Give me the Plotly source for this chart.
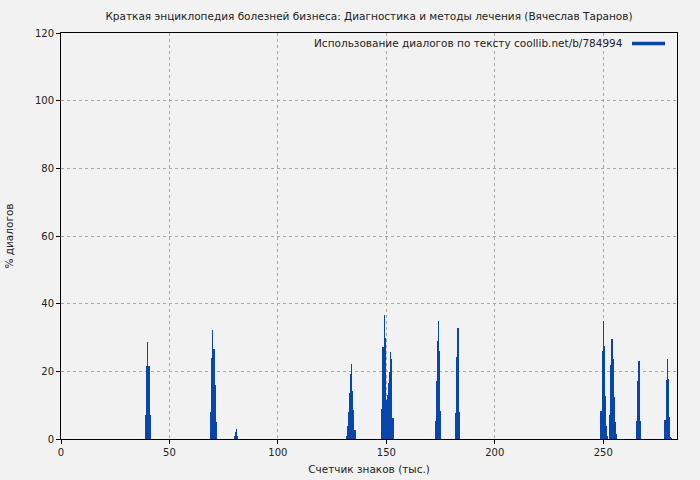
import plotly.graph_objects as go

# Character counter (thousands) and share of dialogue (%)
counter_k = [
    39.0, 39.5, 40.0, 40.5, 41.0,
    69.0, 69.5, 70.0, 70.5, 71.0, 71.5,
    80.0, 80.5, 81.0, 81.5,
    131.5, 132.0, 132.5, 133.0, 133.5, 134.0, 134.5, 135.0, 135.5,
    148.0, 148.5, 149.0, 149.5, 150.0, 150.5, 151.0, 151.5, 152.0, 152.5, 153.0,
    172.5, 173.0, 173.5, 174.0, 174.5, 175.0,
    182.0, 182.5, 183.0, 183.5,
    249.0, 249.5, 250.0, 250.5, 251.0, 251.5, 252.0,
    253.0, 253.5, 254.0, 254.5, 255.0, 255.5, 256.0,
    265.5, 266.0, 266.5, 267.0,
    278.5, 279.0, 279.5, 280.0, 280.5, 281.0, 281.5,
]
dialog_pct = [
    7.0, 21.5, 28.7, 21.5, 7.0,
    8.0, 24.0, 32.3, 26.6, 16.0, 5.0,
    1.0, 2.2, 2.9, 1.0,
    0.9, 3.8, 8.0, 13.5, 19.2, 22.2, 14.1, 8.6, 2.7,
    9.0, 27.3, 36.7, 29.9, 11.5, 13.0, 16.6, 19.8, 25.8, 23.5, 6.2,
    5.4, 17.2, 29.0, 35.0, 26.1, 8.4,
    7.8, 24.3, 32.8, 8.0,
    8.4, 26.1, 35.0, 27.5, 12.7, 3.8, 0.9,
    7.1, 21.9, 29.6, 23.6, 12.3, 5.0, 1.5,
    5.4, 17.1, 23.0, 5.4,
    5.6, 17.4, 23.6, 17.7, 6.6, 0.7, 0.4,
]

title_text = "Краткая энциклопедия болезней бизнеса: Диагностика и методы лечения (Вячеслав Таранов)"
series_name = "Использование диалогов по тексту coollib.net/b/784994"
x_title = "Счетчик знаков (тыс.)"
y_title = "% диалогов"
x_ticks = [0, 50, 100, 150, 200, 250]
y_ticks = [0, 20, 40, 60, 80, 100, 120]

BLUE = "#0846ab"
BG = "#f2f2f2"
FONT = "DejaVu Sans"
W, H = 700, 480
L, R, T, B = 61, 23, 33, 41
PW, PH = W - L - R, H - T - B

fig = go.Figure()
fig.add_trace(go.Bar(
    x=counter_k, y=dialog_pct, name=series_name,
    width=0.6, marker=dict(color=BLUE, line=dict(width=0)),
    showlegend=False,
))

axis_common = dict(
    ticks="outside", ticklen=4, tickcolor="black",
    showline=True, linecolor="black", linewidth=1, mirror=True,
    showgrid=True, gridcolor="#a6a6a6", griddash="3px,3px", gridwidth=1,
    zeroline=False, automargin=False,
)

fig.update_layout(
    width=W, height=H,
    paper_bgcolor=BG, plot_bgcolor=BG,
    margin=dict(l=L, r=R, t=T, b=B),
    font=dict(family=FONT, size=10, color="#222222"),
    title=dict(text=title_text, x=0.5, xref="paper", xanchor="center",
               y=1 - 16 / H, yanchor="middle", font=dict(size=10.5, family=FONT)),
    bargap=0,
    xaxis=dict(range=[0, 284], tickvals=x_ticks,
               title=dict(text=x_title, standoff=8, font=dict(size=10.5)),
               **axis_common),
    yaxis=dict(range=[0, 120], tickvals=y_ticks,
               title=dict(text=y_title, standoff=19, font=dict(size=10.5)),
               **axis_common),
)

fig.add_annotation(
    text=series_name, xref="paper", yref="paper",
    x=(625 - L) / PW, y=(439 - 42.5) / PH,
    xanchor="right", yanchor="middle", showarrow=False,
    font=dict(size=10.5, family=FONT, color="#222222"),
)
fig.add_shape(
    type="rect", xref="paper", yref="paper",
    x0=(632 - L) / PW, x1=(665 - L) / PW,
    y0=(439 - 45.3) / PH, y1=(439 - 41.7) / PH,
    fillcolor=BLUE, line=dict(width=0),
)

page_js = (
    "document.body.style.margin='0';"
    "document.body.style.background='" + BG + "';"
    "document.body.style.overflow='hidden';"
)
fig.write_html("out.html", post_script=page_js,
               config={"displayModeBar": False, "staticPlot": True})
